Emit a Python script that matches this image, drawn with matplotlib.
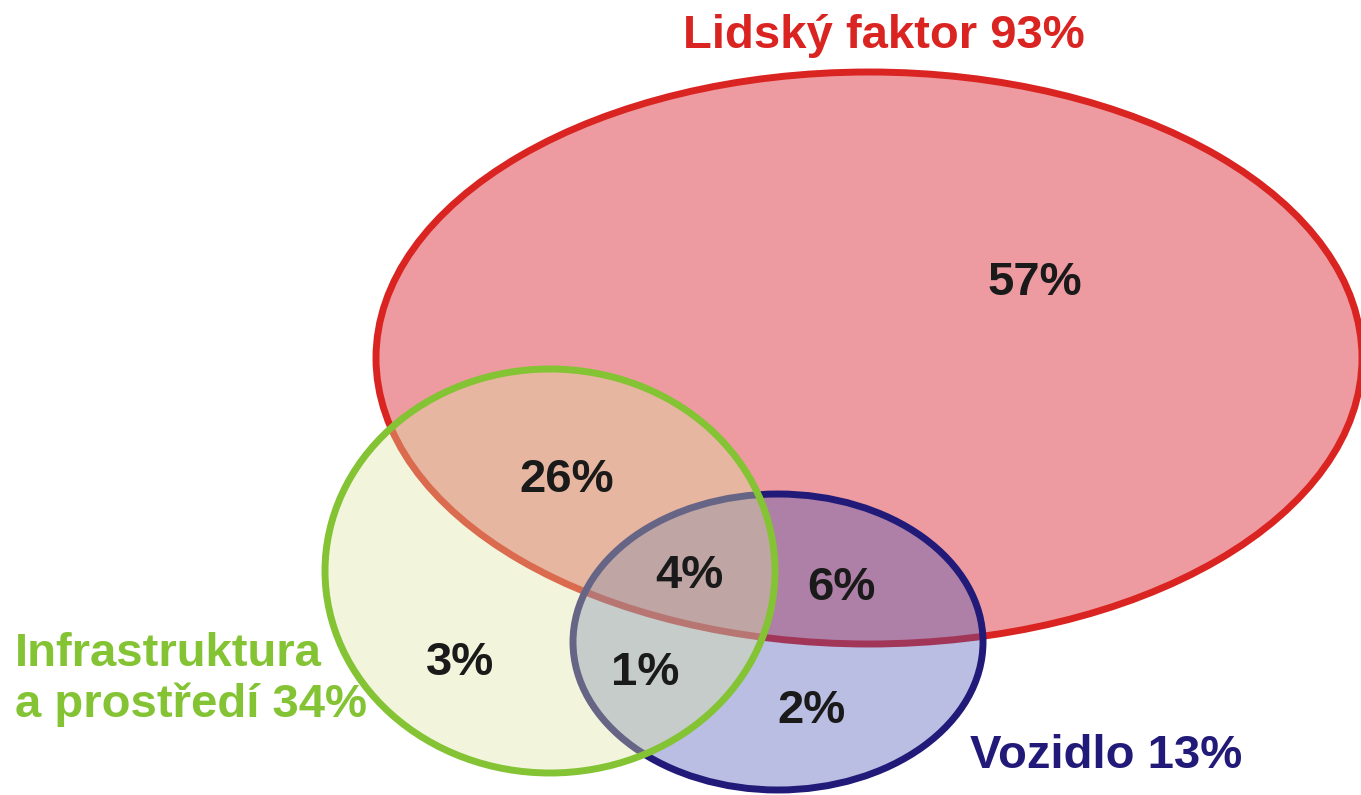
import matplotlib.pyplot as plt
from matplotlib.patches import Ellipse

# data
set_names = ["Lidský faktor", "Infrastruktura\na prostředí", "Vozidlo"]
set_totals = [93, 34, 13]
region_names = ["human", "human+infra", "all", "human+vehicle", "infra", "infra+vehicle", "vehicle"]
region_values = [57, 26, 4, 6, 3, 1, 2]

# layout (pixel coordinates, y going down)
ellipses = {
    "human":   dict(xy=(869, 358), w=986, h=572),
    "infra":   dict(xy=(550, 571), w=450, h=404),
    "vehicle": dict(xy=(778, 642), w=410, h=296),
}
region_pos = {
    "human": (1035, 295), "human+infra": (567, 492), "all": (689, 588),
    "human+vehicle": (841, 600), "infra": (460, 675), "infra+vehicle": (645, 685),
    "vehicle": (812, 723),
}

red_edge = "#da2421"
red_fill = "#ed9ba0"
green_edge = "#84c333"
green_fill = (222 / 255, 230 / 255, 160 / 255, 0.37)
blue_edge = "#221a78"
blue_fill = (72 / 255, 84 / 255, 180 / 255, 0.38)

plt.rcParams["font.family"] = ["Liberation Sans", "DejaVu Sans"]

fig = plt.figure(figsize=(13.61, 7.95), dpi=100)
ax = fig.add_axes([0, 0, 1, 1])
ax.set_xlim(0, 1361)
ax.set_ylim(795, 0)
ax.axis("off")

e = ellipses["human"]
ax.add_patch(Ellipse(e["xy"], e["w"], e["h"], facecolor=red_fill,
                     edgecolor=red_edge, linewidth=5))
e = ellipses["vehicle"]
ax.add_patch(Ellipse(e["xy"], e["w"], e["h"], facecolor=blue_fill,
                     edgecolor=blue_edge, linewidth=5))
e = ellipses["infra"]
ax.add_patch(Ellipse(e["xy"], e["w"], e["h"], facecolor=green_fill,
                     edgecolor=green_edge, linewidth=5))

for name, val in zip(region_names, region_values):
    x, y = region_pos[name]
    ax.text(x, y, f"{val}%", ha="center", va="baseline", fontsize=34,
            fontweight="bold", color="#1a1a1a")

ax.text(884, 48, f"{set_names[0]} {set_totals[0]}%", ha="center", va="baseline",
        fontsize=34, fontweight="bold", color=red_edge)
ax.text(15, 717, f"{set_names[1]} {set_totals[1]}%", ha="left", va="baseline",
        fontsize=34, fontweight="bold", color=green_edge, linespacing=1.2)
ax.text(1106, 768, f"{set_names[2]} {set_totals[2]}%", ha="center", va="baseline",
        fontsize=34, fontweight="bold", color=blue_edge)

fig.savefig("out.png", dpi=100)
